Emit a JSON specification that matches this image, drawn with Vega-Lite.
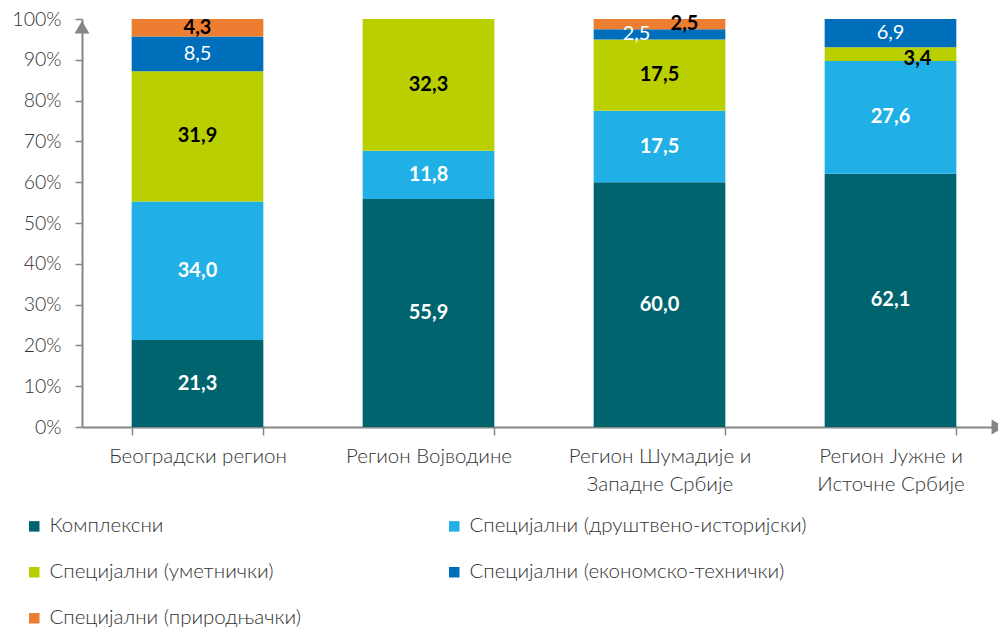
{
  "$schema": "https://vega.github.io/schema/vega-lite/v6.json",
  "width": 916,
  "height": 408,
  "autosize": "none",
  "padding": {"left": 82, "top": 19, "right": 0, "bottom": 200},
  "background": "white",
  "data": {
    "values": [
      {"region": "Београдски регион", "series": "Комплексни", "ord": 1, "value": 21.3},
      {"region": "Београдски регион", "series": "Специјални (друштвено-историјски)", "ord": 2, "value": 34.0},
      {"region": "Београдски регион", "series": "Специјални (уметнички)", "ord": 3, "value": 31.9},
      {"region": "Београдски регион", "series": "Специјални (економско-технички)", "ord": 4, "value": 8.5},
      {"region": "Београдски регион", "series": "Специјални (природњачки)", "ord": 5, "value": 4.3},
      {"region": "Регион Војводине", "series": "Комплексни", "ord": 1, "value": 55.9},
      {"region": "Регион Војводине", "series": "Специјални (друштвено-историјски)", "ord": 2, "value": 11.8},
      {"region": "Регион Војводине", "series": "Специјални (уметнички)", "ord": 3, "value": 32.3},
      {"region": "Регион Шумадије и Западне Србије", "series": "Комплексни", "ord": 1, "value": 60.0},
      {"region": "Регион Шумадије и Западне Србије", "series": "Специјални (друштвено-историјски)", "ord": 2, "value": 17.5},
      {"region": "Регион Шумадије и Западне Србије", "series": "Специјални (уметнички)", "ord": 3, "value": 17.5},
      {"region": "Регион Шумадије и Западне Србије", "series": "Специјални (економско-технички)", "ord": 4, "value": 2.5},
      {"region": "Регион Шумадије и Западне Србије", "series": "Специјални (природњачки)", "ord": 5, "value": 2.5},
      {"region": "Регион Јужне и Источне Србије", "series": "Комплексни", "ord": 1, "value": 62.1},
      {"region": "Регион Јужне и Источне Србије", "series": "Специјални (друштвено-историјски)", "ord": 2, "value": 27.6},
      {"region": "Регион Јужне и Источне Србије", "series": "Специјални (уметнички)", "ord": 3, "value": 3.4},
      {"region": "Регион Јужне и Источне Србије", "series": "Специјални (економско-технички)", "ord": 4, "value": 6.9}
    ]
  },
  "encoding": {
    "x": {
      "field": "region",
      "type": "nominal",
      "sort": ["Београдски регион", "Регион Војводине", "Регион Шумадије и Западне Србије", "Регион Јужне и Источне Србије"],
      "scale": {"range": [0, 924], "paddingInner": 0.43, "paddingOuter": 0.215},
      "axis": {
        "title": null,
        "labelAngle": 0,
        "tickBand": "extent",
        "tickSize": 8,
        "tickColor": "#868686",
        "tickWidth": 1.5,
        "domainColor": "#868686",
        "domainWidth": 2,
        "labelFont": "Lato",
        "labelFontSize": 20.5,
        "labelFontWeight": 300,
        "labelColor": "#333333",
        "labelPadding": 11,
        "labelLimit": 400,
        "labelLineHeight": 28,
        "labelExpr": "datum.value == 'Регион Шумадије и Западне Србије' ? ['Регион Шумадије и', 'Западне Србије'] : datum.value == 'Регион Јужне и Источне Србије' ? ['Регион Јужне и', 'Источне Србије'] : datum.value"
      }
    }
  },
  "layer": [
    {
      "mark": {"type": "bar"},
      "encoding": {
        "y": {
          "field": "value",
          "type": "quantitative",
          "stack": "zero",
          "scale": {"domain": [0, 100]},
          "axis": {
            "title": null,
            "values": [0, 10, 20, 30, 40, 50, 60, 70, 80, 90, 100],
            "labelExpr": "datum.value + '%'",
            "grid": false,
            "tickSize": 7,
            "tickColor": "#868686",
            "tickWidth": 1.5,
            "domainColor": "#868686",
            "domainWidth": 2,
            "labelFont": "Lato",
            "labelFontSize": 19.5,
            "labelFontWeight": 300,
            "labelColor": "#333333",
            "labelPadding": 14
          }
        },
        "color": {
          "field": "series",
          "type": "nominal",
          "scale": {
            "domain": ["Комплексни", "Специјални (друштвено-историјски)", "Специјални (уметнички)", "Специјални (економско-технички)", "Специјални (природњачки)"],
            "range": ["#00646E", "#21B0E6", "#B9CF00", "#006FBB", "#ED7D31"]
          },
          "legend": {
            "title": null,
            "orient": "none",
            "direction": "horizontal",
            "legendX": -58,
            "legendY": 497,
            "columns": 2,
            "symbolType": "square",
            "symbolSize": 110,
            "symbolStrokeWidth": 0,
            "labelFont": "Lato",
            "labelFontSize": 20.5,
            "labelFontWeight": 300,
            "labelColor": "#333333",
            "labelOffset": 5,
            "labelLimit": 400,
            "columnPadding": 142,
            "rowPadding": 25
          }
        },
        "order": {"field": "ord", "type": "quantitative"}
      }
    },
    {
      "mark": {"type": "text", "font": "Lato", "fontWeight": "bold", "fontSize": 20, "fill": "white"},
      "encoding": {
        "y": {"field": "value", "type": "quantitative", "stack": "zero", "bandPosition": 0.5},
        "detail": {"field": "series"},
        "order": {"field": "ord", "type": "quantitative"},
        "text": {"condition": {"test": "datum.ord <= 2", "field": "value", "type": "quantitative", "format": ".1f"}, "value": ""}
      }
    },
    {
      "mark": {"type": "text", "font": "Lato", "fontWeight": "bold", "fontSize": 20, "fill": "black"},
      "encoding": {
        "y": {"field": "value", "type": "quantitative", "stack": "zero", "bandPosition": 0.5},
        "detail": {"field": "series"},
        "order": {"field": "ord", "type": "quantitative"},
        "text": {"condition": {"test": "(datum.ord == 3 || datum.ord == 5) && !(datum.region == 'Регион Шумадије и Западне Србије' && datum.ord == 5) && !(datum.region == 'Регион Јужне и Источне Србије' && datum.ord == 3)", "field": "value", "type": "quantitative", "format": ".1f"}, "value": ""}
      }
    },
    {
      "mark": {"type": "text", "font": "Lato", "fontWeight": 400, "fontSize": 20, "fill": "white"},
      "encoding": {
        "y": {"field": "value", "type": "quantitative", "stack": "zero", "bandPosition": 0.5},
        "detail": {"field": "series"},
        "order": {"field": "ord", "type": "quantitative"},
        "text": {"condition": {"test": "datum.ord == 4 && datum.region != 'Регион Шумадије и Западне Србије'", "field": "value", "type": "quantitative", "format": ".1f"}, "value": ""}
      }
    },
    {
      "mark": {"type": "text", "font": "Lato", "fontWeight": 400, "fontSize": 20, "fill": "white", "dx": -23},
      "encoding": {
        "y": {"field": "value", "type": "quantitative", "stack": "zero", "bandPosition": 0.5},
        "detail": {"field": "series"},
        "order": {"field": "ord", "type": "quantitative"},
        "text": {"condition": {"test": "datum.ord == 4 && datum.region == 'Регион Шумадије и Западне Србије'", "field": "value", "type": "quantitative", "format": ".1f"}, "value": ""}
      }
    },
    {
      "mark": {"type": "text", "font": "Lato", "fontWeight": "bold", "fontSize": 20, "fill": "black", "dx": 25},
      "encoding": {
        "y": {"field": "value", "type": "quantitative", "stack": "zero", "bandPosition": 0.5},
        "detail": {"field": "series"},
        "order": {"field": "ord", "type": "quantitative"},
        "text": {"condition": {"test": "datum.ord == 5 && datum.region == 'Регион Шумадије и Западне Србије'", "field": "value", "type": "quantitative", "format": ".1f"}, "value": ""}
      }
    },
    {
      "mark": {"type": "text", "font": "Lato", "fontWeight": "bold", "fontSize": 20, "fill": "black", "dx": 27, "dy": 5},
      "encoding": {
        "y": {"field": "value", "type": "quantitative", "stack": "zero", "bandPosition": 0.5},
        "detail": {"field": "series"},
        "order": {"field": "ord", "type": "quantitative"},
        "text": {"condition": {"test": "datum.ord == 3 && datum.region == 'Регион Јужне и Источне Србије'", "field": "value", "type": "quantitative", "format": ".1f"}, "value": ""}
      }
    },
    {
      "data": {"values": [{"arrow": "y"}]},
      "mark": {"type": "point", "shape": "triangle-up", "filled": true, "color": "#868686", "size": 220, "opacity": 1},
      "encoding": {
        "x": {"value": 0},
        "y": {"datum": 98, "type": "quantitative"}
      }
    },
    {
      "data": {"values": [{"arrow": "x"}]},
      "mark": {"type": "point", "shape": "triangle-right", "filled": true, "color": "#868686", "size": 220, "opacity": 1},
      "encoding": {
        "x": {"value": "width"},
        "y": {"datum": 0, "type": "quantitative"}
      }
    }
  ],
  "config": {
    "view": {"stroke": null},
    "font": "Lato",
    "locale": {"number": {"decimal": ",", "thousands": ".", "grouping": [3], "currency": ["", ""]}}
  }
}
